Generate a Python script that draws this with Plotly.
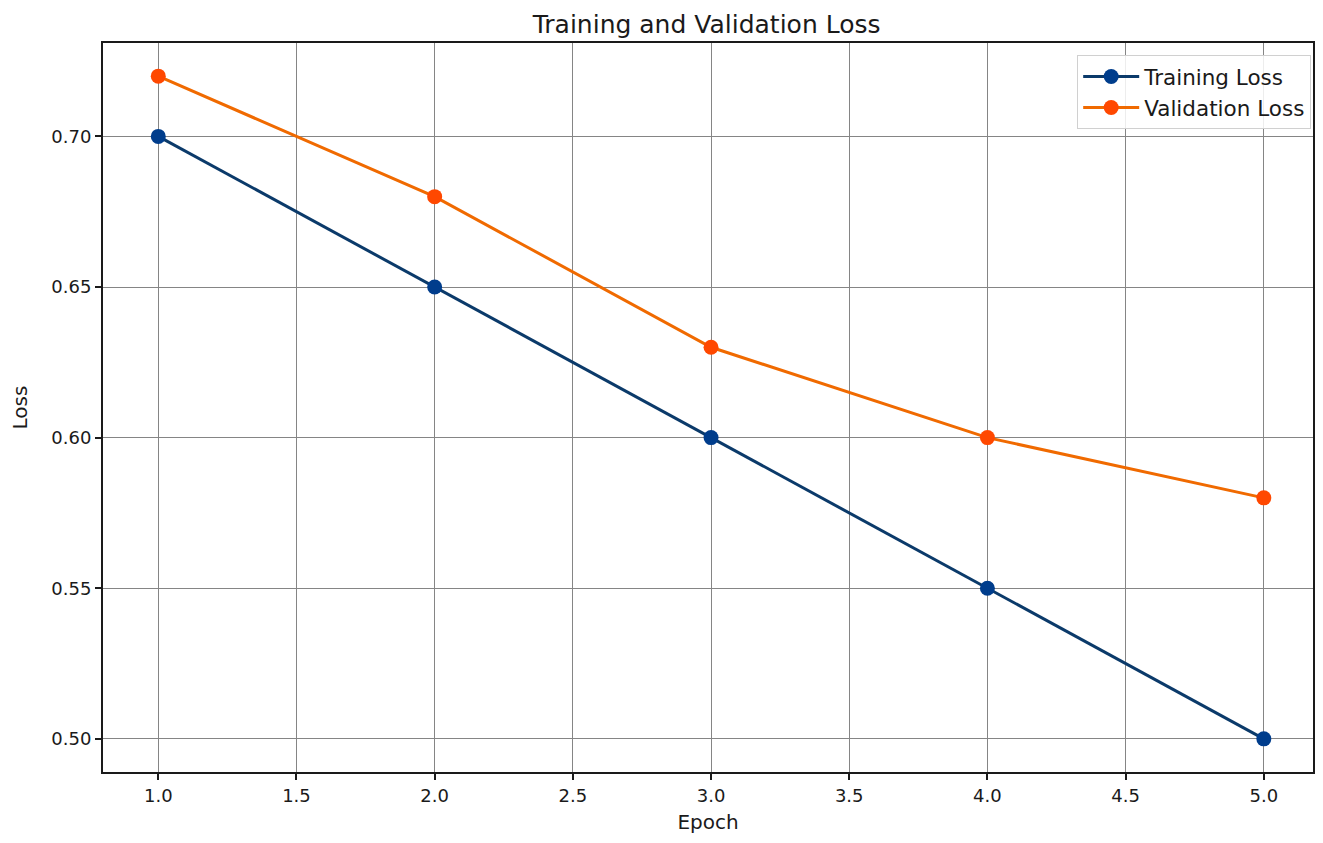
import plotly.graph_objects as go

epochs = [1, 2, 3, 4, 5]
training_loss = [0.70, 0.65, 0.60, 0.55, 0.50]
validation_loss = [0.72, 0.68, 0.63, 0.60, 0.58]
x_ticks = [1.0, 1.5, 2.0, 2.5, 3.0, 3.5, 4.0, 4.5, 5.0]
y_ticks = [0.50, 0.55, 0.60, 0.65, 0.70]

font = "DejaVu Sans, Arial, sans-serif"

fig = go.Figure()
fig.add_trace(go.Scatter(
    x=epochs, y=training_loss, mode="lines+markers", name="Training Loss",
    line=dict(color="#0b3a6a", width=3),
    marker=dict(color="#003d8c", size=15),
))
fig.add_trace(go.Scatter(
    x=epochs, y=validation_loss, mode="lines+markers", name="Validation Loss",
    line=dict(color="#f06a00", width=3),
    marker=dict(color="#ff4800", size=15),
))

axis_common = dict(
    showgrid=True, gridcolor="#858585", gridwidth=1,
    showline=True, linecolor="#1a1a1a", linewidth=2, mirror=True,
    ticks="outside", ticklen=6, tickwidth=1.5, tickcolor="#1a1a1a",
    zeroline=False, tickfont=dict(size=18, color="#1a1a1a", family=font),
)

W, H = 1307, 827
fig.update_layout(
    width=W, height=H,
    margin=dict(l=95, r=0, t=35, b=63),
    paper_bgcolor="white", plot_bgcolor="white",
    font=dict(family=font, color="#1a1a1a"),
    title=dict(text="Training and Validation Loss", x=(660 - 8) / W, xanchor="center",
               y=1 - 16/H, yanchor="middle", xref="paper",
               font=dict(size=25, family=font, color="#1a1a1a")),
    xaxis=dict(range=[0.8, 5.178], tickvals=x_ticks,
               ticktext=[f"{v:.1f}" for v in x_ticks],
               title=dict(text="Epoch", font=dict(size=20), standoff=10),
               **axis_common),
    yaxis=dict(range=[0.489, 0.731], tickvals=y_ticks,
               ticktext=[f"{v:.2f}" for v in y_ticks],
               title=dict(text="Loss", font=dict(size=20), standoff=27),
               **axis_common),
    legend=dict(x=0.9985, y=0.9835, xanchor="right", yanchor="top",
                bgcolor="rgba(255,255,255,0.85)", bordercolor="#d0d0d0", borderwidth=1,
                font=dict(size=21.5, family=font, color="#1a1a1a"),
                itemwidth=56),
    showlegend=True,
)

fig.write_html("out.html")
